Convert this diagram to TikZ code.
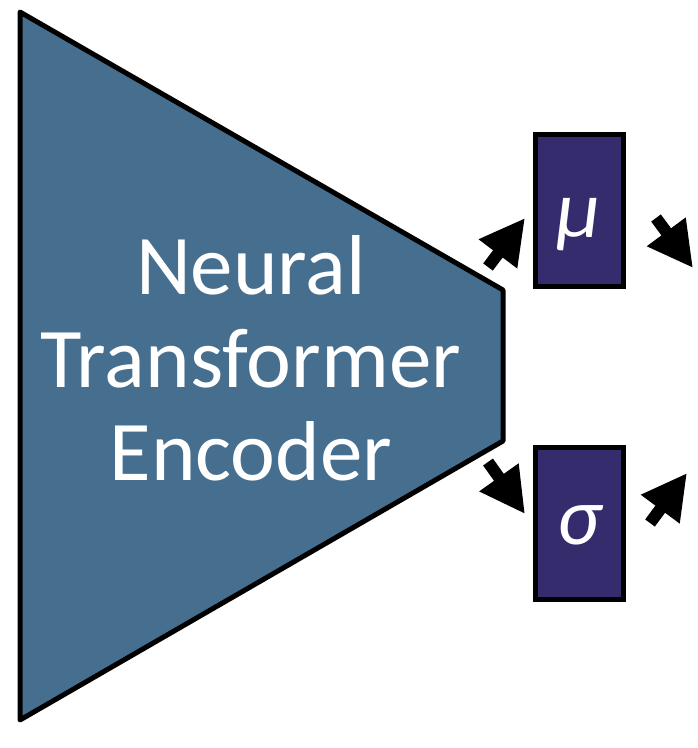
\documentclass[tikz,border=0pt]{standalone}
\usepackage{fontspec}
\setmainfont{Carlito}
\usepackage{tikz}
\usetikzlibrary{arrows.meta}

\definecolor{encfill}{HTML}{466E8E}
\definecolor{boxfill}{HTML}{352C6D}

\begin{document}
\begin{tikzpicture}[x=1pt,y=-1pt,
    outline/.style={draw=black,line width=5pt},
    param/.style={outline,fill=boxfill,text=white,minimum width=88pt,minimum height=152pt,inner sep=0pt,
        text height=50pt,text depth=8pt,font=\fontsize{82}{86}\selectfont\itshape},
    blockarrow/.style={line width=12pt,-{Triangle[width=45pt,length=45pt]}}]
    \useasboundingbox (0,0) rectangle (698,748);
    % encoder trapezoid
    \coordinate (T1) at (20,12);
    \coordinate (T2) at (503,290);
    \coordinate (T3) at (503,441);
    \coordinate (T4) at (20,720);
    \draw[outline,fill=encfill,line join=round] (T1) -- (T2) -- (T3) -- (T4) -- cycle;
    \node[text=white,align=center,font=\fontsize{85}{93}\selectfont] (enc) at (251,358) {Neural\\Transformer\\Encoder};
    % mu and sigma
    \node[param,text height=56pt,text depth=2pt] (M) at (579,210) {μ};
    \node[param] (S) at (579,523) {σ};
    \coordinate (A1) at (488,267);
    \coordinate (B1) at (525,218);
    \coordinate (A2) at (656,218);
    \coordinate (B2) at (693,268);
    \coordinate (A3) at (488,462);
    \coordinate (B3) at (525,514);
    \coordinate (A4) at (650,523);
    \coordinate (B4) at (687,473);
    \path (A1) edge [blockarrow] (B1);
    \path (A2) edge [blockarrow] (B2);
    \path (A3) edge [blockarrow] (B3);
    \path (A4) edge [blockarrow] (B4);
\end{tikzpicture}
\end{document}
